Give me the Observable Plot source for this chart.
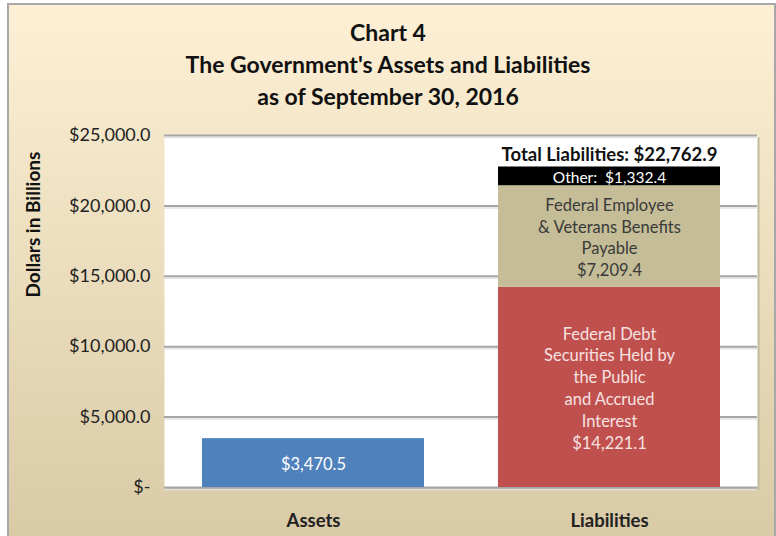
<!DOCTYPE html>
<html><head><meta charset="utf-8">
<script src="https://cdn.jsdelivr.net/npm/d3@7"></script>
<script src="https://cdn.jsdelivr.net/npm/@observablehq/plot@0.6"></script>
<style>
body{margin:0;width:776px;height:536px;overflow:hidden;background:#fff;font-family:Lato,"Open Sans",sans-serif;position:relative}
#card{position:absolute;left:7px;top:3px;width:765px;height:540px;border:2px solid #a8a8a8;border-bottom:none;background:linear-gradient(#fdf0d5,#d8caa5)}
#title{position:absolute;left:0;width:776px;top:16px;text-align:center;font-weight:bold;font-size:23px;line-height:32px;color:#111}
#chart{position:absolute;left:0;top:120px}
</style></head><body>
<div id="card"></div>
<div id="title">Chart 4<br>The Government's Assets and Liabilities<br>as of September 30, 2016</div>
<div id="chart"></div>
<script>
const categories = ["Assets", "Liabilities"];
const segCategory = ["Assets", "Liabilities", "Liabilities", "Liabilities"];
const segValue = [3470.5, 14221.1, 7209.4, 1332.4];
const segLabel = ["$3,470.5",
  "Federal Debt\nSecurities Held by\nthe Public\nand Accrued\nInterest\n$14,221.1",
  "Federal Employee\n& Veterans Benefits\nPayable\n$7,209.4",
  "Other:  $1,332.4"];
const segColor = ["#4f81bd", "#c0504d", "#c4bd97", "#000000"];
const segTextColor = ["#ffffff", "#f6e2e1", "#3a3a3a", "#ffffff"];
const segFontSize = [16.5, 16.5, 16.5, 15.5];
const totalCategory = ["Liabilities"];
const totalValue = [22762.9];
const totalLabel = ["Total Liabilities: $22,762.9"];
const yTicks = [0, 5000, 10000, 15000, 20000, 25000];
const yTitle = "Dollars in Billions";

const segs = segValue.map((v, i) => ({cat: segCategory[i], value: v, label: segLabel[i], color: segColor[i], tcolor: segTextColor[i], fs: segFontSize[i]}));
const totals = totalValue.map((v, i) => ({cat: totalCategory[i], value: v, label: totalLabel[i]}));
const fmt = d => d === 0 ? "$-" : "$" + d3.format(",.1f")(d);

const chart = Plot.plot({
  width: 776, height: 416,
  marginLeft: 164, marginRight: 19, marginTop: 15, marginBottom: 49,
  style: {background: "transparent", fontFamily: "Lato, 'Open Sans', sans-serif", color: "#222"},
  x: {domain: categories, paddingInner: 0.25, paddingOuter: 0.125},
  y: {domain: [0, 25000]},
  color: {type: "identity"},
  marks: [
    Plot.frame({fill: "#c2b99c", dx: 2, dy: 2}),
    Plot.frame({fill: "white"}),
    Plot.gridY(yTicks, {stroke: "#e2e2e2", strokeOpacity: 1, strokeWidth: 1.5, dy: 2}),
    Plot.gridY(yTicks, {stroke: "#a6a6a6", strokeOpacity: 1, strokeWidth: 2}),
    Plot.barY(segs, {x: "cat", y: "value", fill: "color"}),
    Plot.text(segs, Plot.stackY({x: "cat", y: "value", text: "label", fill: "tcolor", fontSize: "fs", lineHeight: 1.33})),
    Plot.text(totals, {x: "cat", y: "value", text: "label", dy: -12, fontSize: 18.5, fontWeight: "bold", fill: "#111"}),
    Plot.axisY({ticks: yTicks, tickFormat: fmt, tickSize: 0, tickPadding: 14, fontSize: 18, label: null}),
    Plot.axisX({tickSize: 0, tickPadding: 26, fontSize: 18.5, fontWeight: "bold", label: null}),
    Plot.text([yTitle], {frameAnchor: "left", rotate: -90, dx: -131, dy: -14, fontSize: 19, fontWeight: "bold", fill: "#111"})
  ]
});
document.getElementById("chart").appendChild(chart);
</script>
</body></html>
